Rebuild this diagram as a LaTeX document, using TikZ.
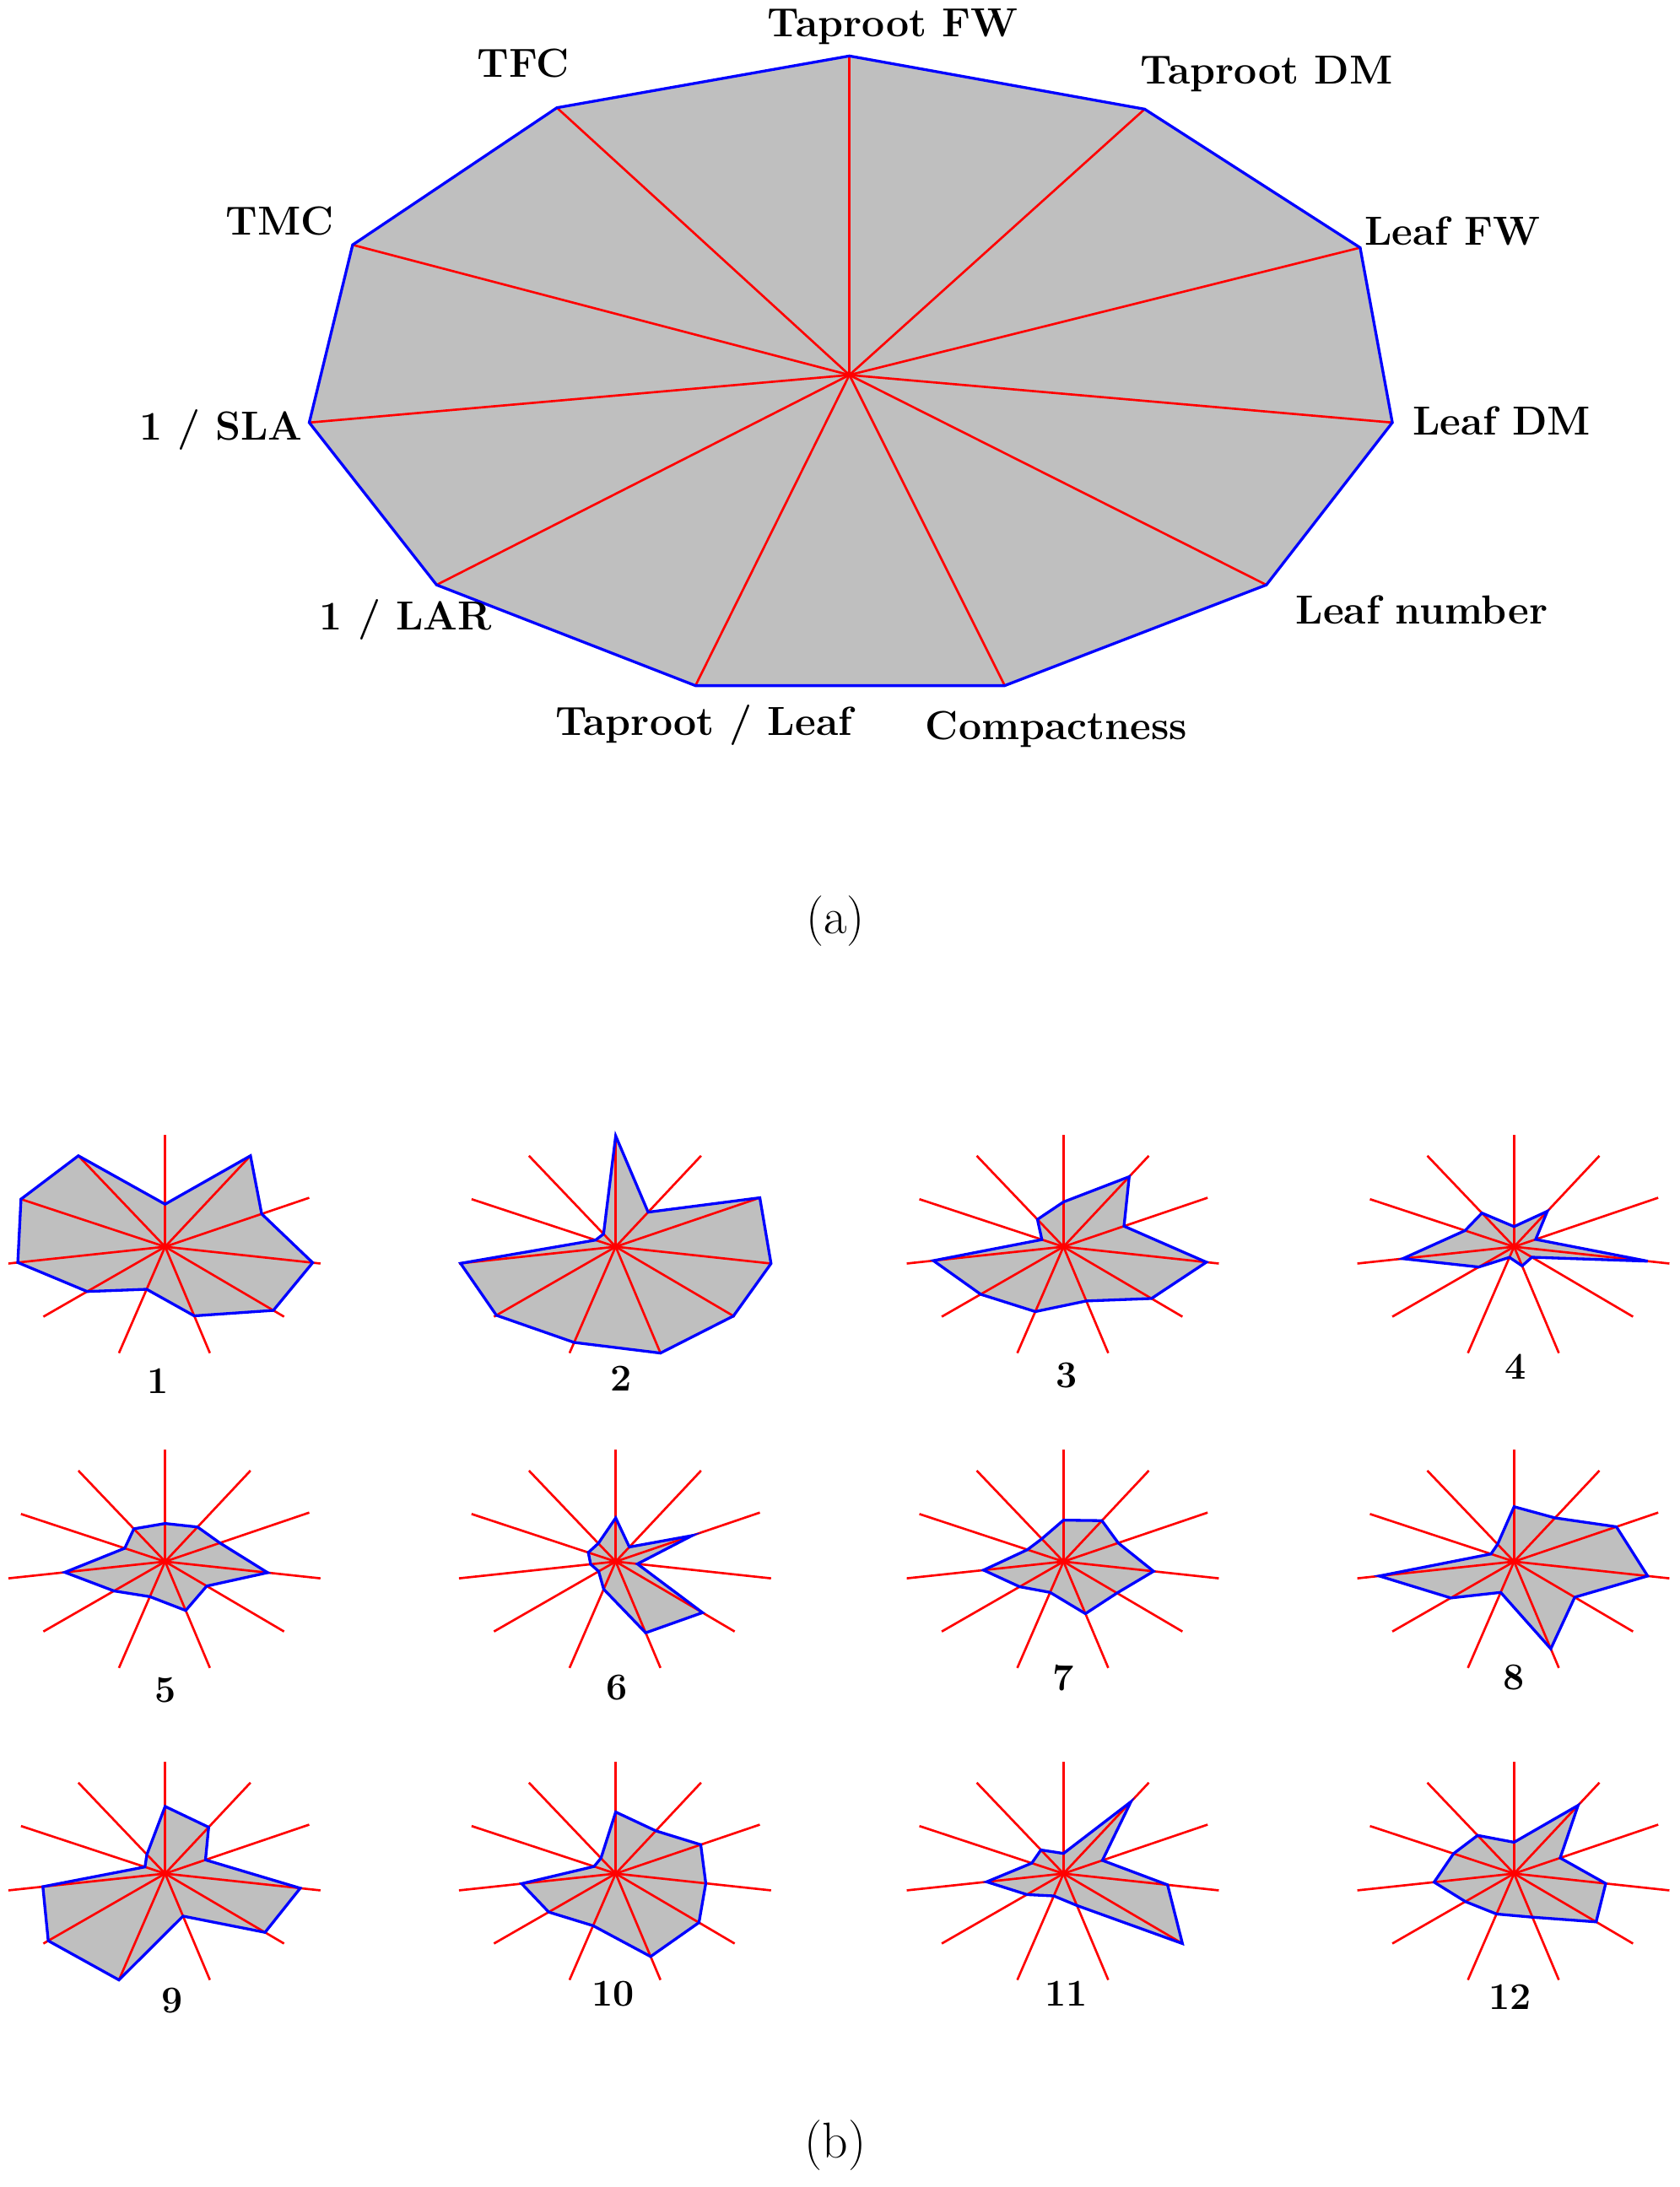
\documentclass[tikz,border=0pt]{standalone}
\begin{document}
\begin{tikzpicture}[x=1pt,y=-1pt,
  polyfill/.style={fill=black!25},
  polyline/.style={draw=blue,line width=2pt,line join=miter},
  spoke/.style={draw=red,line width=1.6pt},
  biglab/.style={font=\fontsize{29}{30}\selectfont\bfseries,inner sep=0pt},
  numlab/.style={font=\fontsize{27}{28}\selectfont\bfseries,inner sep=0pt},
  caplab/.style={font=\fontsize{36}{38}\selectfont,inner sep=0pt}]
\useasboundingbox (0,0) rectangle (1200,1563);
% ---------- big chart (a) ----------
\coordinate (O) at (607,268);
\coordinate (v0) at (607,40);
\coordinate (v1) at (818,78);
\coordinate (v2) at (972,177);
\coordinate (v3) at (995,302);
\coordinate (v4) at (905,418);
\coordinate (v5) at (718,490);
\coordinate (v6) at (497,490);
\coordinate (v7) at (312,418);
\coordinate (v8) at (221,302);
\coordinate (v9) at (252,175);
\coordinate (v10) at (398,77);
\fill[polyfill] (v0)--(v1)--(v2)--(v3)--(v4)--(v5)--(v6)--(v7)--(v8)--(v9)--(v10)--cycle;
\foreach \i in {0,...,10} \draw[spoke] (O) -- (v\i);
\draw[polyline] (v0)--(v1)--(v2)--(v3)--(v4)--(v5)--(v6)--(v7)--(v8)--(v9)--(v10)--cycle;
\node[biglab] (l0) at (638,19) {Taproot FW};
\node[biglab] (l1) at (905,53) {Taproot DM};
\node[biglab] (l2) at (1038,165) {Leaf FW};
\node[biglab] (l3) at (1073,301) {Leaf DM};
\node[biglab] (l4) at (1016,436) {Leaf number};
\node[biglab] (l5) at (755,521) {Compactness};
\node[biglab] (l6) at (503,518) {Taproot / Leaf};
\node[biglab] (l7) at (290,443) {1 / LAR};
\node[biglab] (l8) at (158,307) {1 / SLA};
\node[biglab] (l9) at (200,158) {TMC};
\node[biglab] (l10) at (374,45) {TFC};
\node[caplab] (capa) at (597,658) {(a)};
% ---------- small charts (b) ----------
\def\SX{{0,61,103,111,85,32,-33,-87,-112,-103,-62}}
\def\SY{{-80,-65,-35,12,50,76,76,50,12,-34,-65}}
\newcommand\radarchart[6]{%
  \coordinate (#1c) at (#2,#3);
  \foreach \f [count=\i from 0] in {#5}{%
    \pgfmathsetmacro\px{#2+\SX[\i]*\f}%
    \pgfmathsetmacro\py{#3+\SY[\i]*\f}%
    \coordinate (#1p\i) at (\px,\py);
    \pgfmathsetmacro\ex{#2+\SX[\i]}%
    \pgfmathsetmacro\ey{#3+\SY[\i]}%
    \coordinate (#1e\i) at (\ex,\ey);
  }
  \fill[polyfill] (#1p0)--(#1p1)--(#1p2)--(#1p3)--(#1p4)--(#1p5)--(#1p6)--(#1p7)--(#1p8)--(#1p9)--(#1p10)--cycle;
  \foreach \i in {0,...,10} \draw[spoke] (#1c) -- (#1e\i);
  \draw[polyline] (#1p0)--(#1p1)--(#1p2)--(#1p3)--(#1p4)--(#1p5)--(#1p6)--(#1p7)--(#1p8)--(#1p9)--(#1p10)--cycle;
  \node[numlab] (#1n) at #6 {#4};
}
\radarchart{a}{118}{891}{1}{0.38,1.0,0.67,0.95,0.91,0.65,0.40,0.64,0.94,1.0,1.0}{(113,987)}
\radarchart{b}{440}{891}{2}{0.99,0.38,1.0,1.0,0.99,1.0,0.9,0.98,0.99,0.14,0.14}{(444,985)}
\radarchart{c}{760}{891}{3}{0.40,0.77,0.42,0.92,0.74,0.51,0.61,0.68,0.83,0.15,0.30}{(762,983)}
\radarchart{d}{1082}{891}{4}{0.18,0.39,0.15,0.86,0.15,0.18,0.10,0.29,0.71,0.34,0.37}{(1083,977)}
\radarchart{e}{118}{1116}{5}{0.34,0.38,0.38,0.66,0.35,0.46,0.33,0.42,0.64,0.28,0.36}{(118,1208)}
\radarchart{f}{440}{1116}{6}{0.39,0.16,0.53,0.14,0.73,0.67,0.26,0.14,0.16,0.19,0.20}{(441,1206)}
\radarchart{g}{760}{1116}{7}{0.37,0.45,0.38,0.58,0.45,0.49,0.29,0.36,0.51,0.25,0.25}{(760,1199)}
\radarchart{h}{1082}{1116}{8}{0.49,0.48,0.71,0.86,0.51,0.82,0.29,0.52,0.86,0.16,0.19}{(1082,1199)}
\radarchart{i}{118}{1339}{9}{0.60,0.51,0.28,0.87,0.84,0.40,1.0,0.96,0.78,0.14,0.21}{(123,1430)}
\radarchart{j}{440}{1339}{10}{0.55,0.47,0.59,0.58,0.70,0.78,0.49,0.55,0.60,0.15,0.17}{(438,1425)}
\radarchart{k}{760}{1339}{11}{0.18,0.79,0.27,0.67,1.0,0.30,0.21,0.30,0.49,0.22,0.26}{(762,1425)}
\radarchart{m}{1082}{1339}{12}{0.28,0.75,0.32,0.59,0.69,0.41,0.38,0.40,0.51,0.42,0.42}{(1079,1427)}
\node[caplab] (capb) at (597,1533) {(b)};
\end{tikzpicture}
\end{document}
